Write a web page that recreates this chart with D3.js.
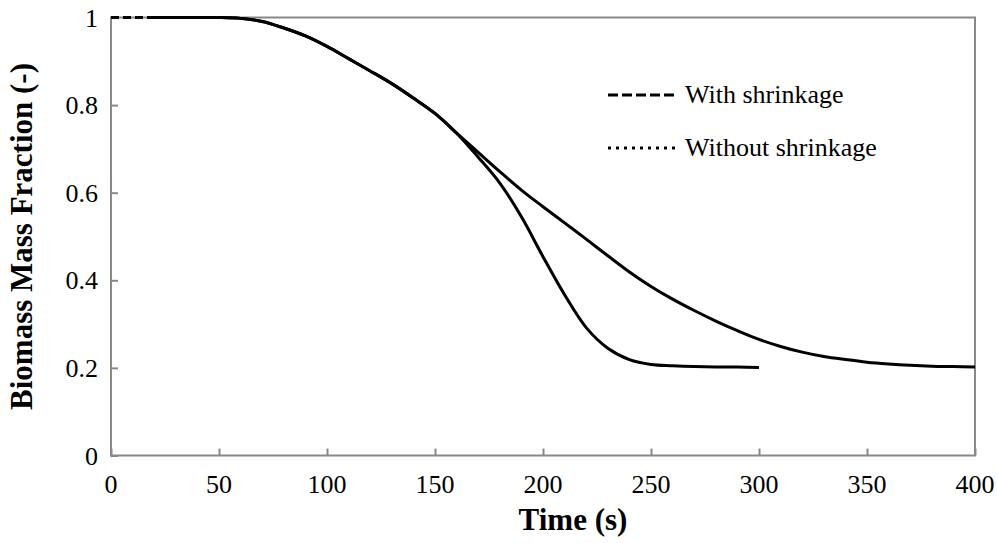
<!DOCTYPE html>
<html>
<head>
<meta charset="utf-8">
<script src="https://cdn.jsdelivr.net/npm/d3@7"></script>
<style>
  body { margin: 0; background: #fff; }
  text { font-family: "Times New Roman", "Liberation Serif", serif; fill: #000; }
</style>
</head>
<body>
<script>
var w = 997;
var h = 543;

// time (s) and biomass mass fraction
var timeWith = [0, 20, 30, 40, 50, 60, 70, 80, 90, 100, 110, 120, 130, 140, 150, 160,
                170, 180, 190, 200, 210, 220, 230, 240, 250, 260, 270, 280, 290, 300];
var fracWith = [1, 1, 1, 1, 1, 0.998, 0.991, 0.976, 0.958, 0.934, 0.906, 0.878, 0.849, 0.816, 0.781, 0.736,
                0.681, 0.622, 0.545, 0.454, 0.367, 0.292, 0.245, 0.219, 0.208, 0.205, 0.203, 0.202, 0.202, 0.201];

var timeWithout = [0, 20, 30, 40, 50, 60, 70, 80, 90, 100, 110, 120, 130, 140, 150, 160,
                   170, 180, 190, 200, 210, 220, 230, 240, 250, 260, 270, 280, 290, 300,
                   310, 320, 330, 340, 350, 360, 370, 380, 390, 400];
var fracWithout = [1, 1, 1, 1, 1, 0.998, 0.991, 0.976, 0.958, 0.934, 0.906, 0.878, 0.849, 0.816, 0.781, 0.736,
                   0.692, 0.648, 0.606, 0.568, 0.531, 0.494, 0.456, 0.419, 0.386, 0.357, 0.331, 0.307, 0.285, 0.265,
                   0.249, 0.236, 0.226, 0.219, 0.213, 0.209, 0.206, 0.204, 0.203, 0.202];

var xTicks = [0, 50, 100, 150, 200, 250, 300, 350, 400];
var yTicks = [0, 0.2, 0.4, 0.6, 0.8, 1];
var legendLabels = ["With shrinkage", "Without shrinkage"];

var pLeft = 111, pRight = 975, pTop = 17.5, pBottom = 455.5;
var axisColor = "#888888";

var svg = d3.select("body").append("svg")
  .attr("width", w)
  .attr("height", h);

var x = d3.scaleLinear().domain([0, 400]).range([pLeft, pRight]);
var y = d3.scaleLinear().domain([0, 1]).range([pBottom, pTop]);

// plot frame
svg.append("rect")
  .attr("x", pLeft).attr("y", pTop)
  .attr("width", pRight - pLeft).attr("height", pBottom - pTop)
  .attr("fill", "none")
  .attr("stroke", axisColor)
  .attr("stroke-width", 2);

// x axis, ticks pointing inward
var xAxis = svg.append("g")
  .attr("transform", "translate(0," + pBottom + ")")
  .call(d3.axisTop(x).tickValues(xTicks).tickSize(7).tickFormat(""));
xAxis.select(".domain").remove();
xAxis.selectAll("line").attr("stroke", axisColor).attr("stroke-width", 2);

svg.selectAll("text.xlab")
  .data(xTicks).enter()
  .append("text")
  .attr("class", "xlab")
  .attr("x", function(d) { return x(d); })
  .attr("y", pBottom + 37)
  .attr("text-anchor", "middle")
  .attr("font-size", "26px")
  .text(function(d) { return d; });

// y axis, ticks pointing inward
var yAxis = svg.append("g")
  .attr("transform", "translate(" + pLeft + ",0)")
  .call(d3.axisRight(y).tickValues(yTicks).tickSize(7).tickFormat(""));
yAxis.select(".domain").remove();
yAxis.selectAll("line").attr("stroke", axisColor).attr("stroke-width", 2);

svg.selectAll("text.ylab")
  .data(yTicks).enter()
  .append("text")
  .attr("class", "ylab")
  .attr("x", pLeft - 13)
  .attr("y", function(d) { return y(d) + 9; })
  .attr("text-anchor", "end")
  .attr("font-size", "26px")
  .text(function(d) { return d; });

// axis titles
svg.append("text")
  .attr("x", 573)
  .attr("y", 530)
  .attr("text-anchor", "middle")
  .attr("font-size", "31px")
  .attr("font-weight", "bold")
  .text("Time (s)");

svg.append("text")
  .attr("transform", "translate(32," + ((pTop + pBottom) / 2) + ") rotate(-90)")
  .attr("text-anchor", "middle")
  .attr("font-size", "31px")
  .attr("font-weight", "bold")
  .text("Biomass Mass Fraction (-)");

// curves
var line = d3.line()
  .x(function(d) { return x(d[0]); })
  .y(function(d) { return y(d[1]); })
  .curve(d3.curveCatmullRom.alpha(0.5));

var ptsWith = d3.zip(timeWith, fracWith);
var ptsWithout = d3.zip(timeWithout, fracWithout);

svg.append("path")
  .datum(ptsWithout.slice(1))
  .attr("d", line)
  .attr("fill", "none")
  .attr("stroke", "#000")
  .attr("stroke-width", 3);

svg.append("path")
  .datum(ptsWith.slice(1))
  .attr("d", line)
  .attr("fill", "none")
  .attr("stroke", "#000")
  .attr("stroke-width", 3);

// first segment still shows the dash pattern
svg.append("path")
  .datum(ptsWith.slice(0, 2))
  .attr("d", line)
  .attr("fill", "none")
  .attr("stroke", "#000")
  .attr("stroke-width", 3)
  .attr("stroke-dasharray", "8,4");

// legend
var legend = svg.selectAll("g.leg")
  .data(legendLabels).enter()
  .append("g")
  .attr("class", "leg")
  .attr("transform", function(d, i) { return "translate(608," + (95 + i * 53) + ")"; });

legend.append("line")
  .attr("x1", 0).attr("x2", 70)
  .attr("y1", 0).attr("y2", 0)
  .attr("stroke", "#000")
  .attr("stroke-width", 3)
  .attr("stroke-dasharray", function(d, i) { return i == 0 ? "10,4" : "3,5"; });

legend.append("text")
  .attr("x", 77)
  .attr("y", 8)
  .attr("font-size", "26px")
  .text(function(d) { return d; });
</script>
</body>
</html>
